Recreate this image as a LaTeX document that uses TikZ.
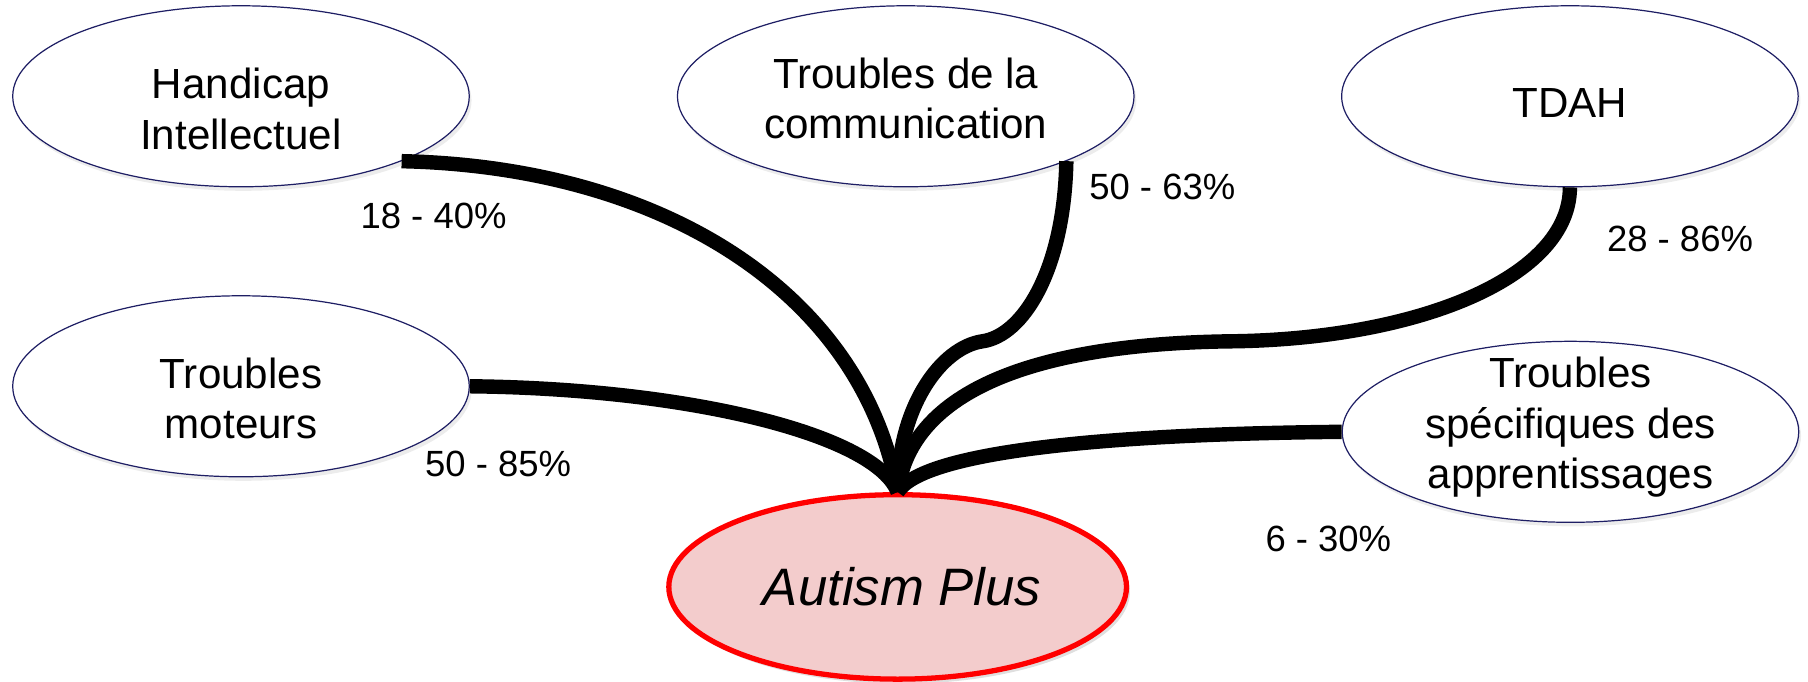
\documentclass[tikz,border=0pt]{standalone}
\usepackage{fontspec}
\setmainfont{Liberation Sans}
\usetikzlibrary{shapes.geometric,shadows}
\definecolor{bubbleline}{RGB}{30,30,100}
\definecolor{autismfill}{RGB}{243,204,204}
\begin{document}
\begin{tikzpicture}[x=0.02cm, y=-0.02cm, bubble/.style = {ellipse, draw=bubbleline, line width=0.6pt, fill=white, minimum width=7.92cm, minimum height=3.14cm, inner sep=0, drop shadow={shadow xshift=0.04cm, shadow yshift=-0.07cm, opacity=0.15}}, caption/.style = {inner sep=0, align=center, font=\fontsize{20.8}{25}\selectfont}, core/.style = {ellipse, draw=red, line width=2.6pt, fill=autismfill, minimum width=7.94cm, minimum height=3.2cm, inner sep=0, font=\fontsize{26}{31}\selectfont\itshape, drop shadow={shadow xshift=0.06cm, shadow yshift=-0.08cm, opacity=0.25}}, link/.style = {line width=0.25cm, black}, pct/.style = {inner sep=0, font=\fontsize{18}{21.6}\selectfont}]
  \useasboundingbox (0, 0) rectangle (1568, 591);
  \node[bubble] at (209, 83.5) (hi) {};
  \node[bubble] at (785.5, 83.5) (comm) {};
  \node[bubble] at (1361.5, 83.5) (tdah) {};
  \node[bubble] at (209, 335) (mot) {};
  \node[bubble] at (1362, 374.5) (spe) {};
  \node[core] at (778.5, 509) (aut) {\hspace{0.15cm}Autism Plus};
  \node[caption, yshift=-0.22cm] at (hi) (hi-text) {Handicap\\Intellectuel};
  \node[caption, yshift=-0.04cm] at (comm) (comm-text) {Troubles de la\\communication};
  \node[caption, yshift=-0.12cm] at (tdah) (tdah-text) {TDAH};
  \node[caption, yshift=-0.21cm] at (mot) (mot-text) {Troubles\\moteurs};
  \node[caption, yshift=0.08cm] at (spe) (spe-text) {Troubles\\spécifiques des\\apprentissages};
  \coordinate (comm-knee) at (852, 296);
  \coordinate (tdah-knee) at (1068, 296);
  \draw[link] (hi.-22) .. controls +(230, 5) and +(-30, -170) .. (aut.north);
  \draw[link] (comm.-22) .. controls +(-2, 95) and +(35, -5) .. (comm-knee) .. controls +(-35, 5) and +(0, -75) .. (aut.north);
  \draw[link] (tdah.south) .. controls +(0, 78) and +(162, -2) .. (tdah-knee) .. controls +(-168, 2) and +(11, -89) .. (aut.north);
  \draw[link] (mot.east) .. controls +(193, 2) and +(-19, -49) .. (aut.north);
  \draw[link] (spe.west) .. controls +(-214, 2) and +(21, -34) .. (aut.north);
  \node[pct] at (376, 187) (hi-pct) {18 - 40\%};
  \node[pct] at (1008, 162) (comm-pct) {50 - 63\%};
  \node[pct] at (1457, 207) (tdah-pct) {28 - 86\%};
  \node[pct] at (432, 402) (mot-pct) {50 - 85\%};
  \node[pct] at (1152, 467) (spe-pct) {6 - 30\%};
\end{tikzpicture}
\end{document}
